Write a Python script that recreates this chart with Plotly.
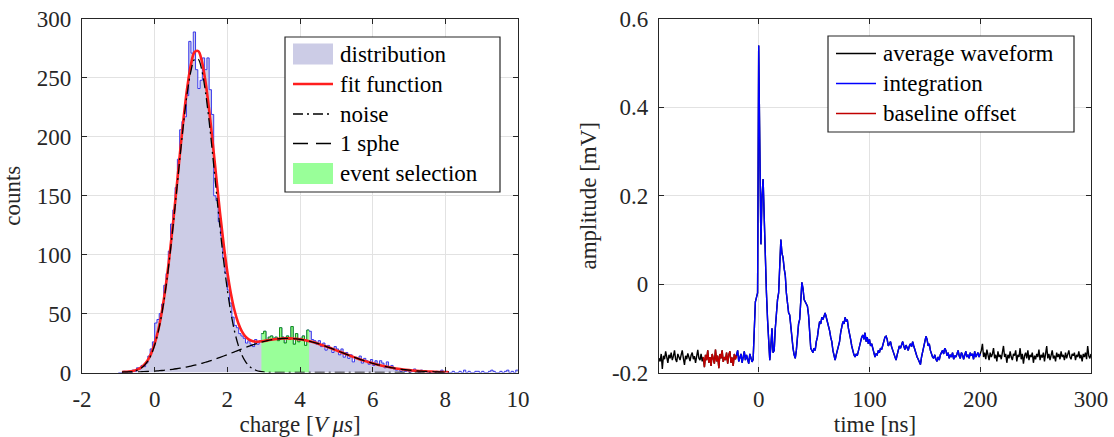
import numpy as np
import plotly.graph_objects as go

# ---------------- data: left panel (charge spectrum) ----------------
BIN_START = -1.0
BIN_WIDTH = 0.0625
HIST_COUNTS = [
    0, 0, 1, 0, 1, 0, 2, 1, 4, 3,
    6, 5, 8, 14, 20, 26, 42, 45, 50, 58,
    74, 84, 103, 126, 138, 157, 181, 206, 213, 217,
    235, 281, 271, 289, 257, 241, 248, 267, 257, 267,
    240, 219, 150, 146, 128, 116, 97, 84, 70, 59,
    47, 40, 38, 33, 31, 29, 25, 27, 24, 22,
    28, 24, 27, 33, 35, 28, 30, 31, 29, 30,
    27, 38, 30, 25, 31, 28, 39, 24, 33, 26,
    29, 31, 23, 36, 35, 28, 27, 24, 27, 22,
    25, 19, 23, 21, 17, 22, 20, 15, 20, 13,
    17, 12, 15, 9, 13, 12, 14, 8, 12, 10,
    7, 11, 6, 10, 7, 10, 8, 4, 9, 4,
    6, 3, 2, 3, 1, 2, 1, 2, 0, 1,
    3, 1, 0, 2, 1, 1, 0, 0, 1, 0,
    1, 0, 2, 0, 1, 0, 0, 1, 0, 0,
    1, 0, 2, 0, 1, 0, 0, 1, 1, 0,
    1, 0, 0, 1, 2, 1, 0, 0, 1, 0,
    1, 2, 0, 1, 0, 2,
]
SELECTION_WINDOW = (2.9375, 4.25)

FIT_X_START, FIT_X_END = -0.9, 8.1
FIT_TOTAL = [
    0.32, 0.50, 0.79, 1.33, 2.22, 3.74, 6.18, 10.05, 15.82, 24.42,
    36.25, 52.01, 72.21, 96.75, 124.94, 155.78, 187.26, 217.10, 242.60, 261.56,
    271.98, 272.76, 263.90, 246.50, 222.56, 194.28, 164.34, 135.05, 108.40, 85.38,
    66.68, 52.39, 42.00, 34.80, 30.38, 27.81, 26.50, 26.12, 26.30, 26.70,
    27.23, 27.75, 28.22, 28.59, 28.85, 28.98, 28.98, 28.84, 28.57, 28.17,
    27.64, 26.99, 26.23, 25.37, 24.42, 23.40, 22.31, 21.18, 20.00, 18.80,
    17.59, 16.38, 15.18, 14.00, 12.85, 11.74, 10.68, 9.66, 8.70, 7.80,
    6.96, 6.18, 5.46, 4.80, 4.20, 3.66, 3.18, 2.74, 2.35, 2.01,
    1.71, 1.45, 1.22, 1.02, 0.85, 0.71, 0.59, 0.48, 0.40, 0.32,
    0.26,
]
FIT_NOISE = [
    0.11, 0.24, 0.47, 0.93, 1.74, 3.15, 5.47, 9.2, 14.8, 23.2,
    34.8, 50.3, 70.2, 94.4, 122.2, 152.6, 183.6, 212.9, 237.8, 256.1,
    265.8, 265.8, 256.1, 237.8, 212.9, 183.6, 152.6, 122.2, 94.4, 70.2,
    50.3, 34.8, 23.2, 14.8, 9.2, 5.5, 3.1, 1.7, 0.93, 0.47,
    0.24, 0.11, 0.05, 0.02, 0.01, 0, 0, 0, 0, 0,
    0, 0, 0, 0, 0, 0, 0, 0, 0, 0,
    0, 0, 0, 0, 0, 0, 0, 0, 0, 0,
    0, 0, 0, 0, 0, 0, 0, 0, 0, 0,
    0, 0, 0, 0, 0, 0, 0, 0, 0, 0,
    0,
]
FIT_SPHE = [
    0.21, 0.26, 0.32, 0.40, 0.48, 0.59, 0.71, 0.85, 1.02, 1.22,
    1.45, 1.71, 2.01, 2.35, 2.74, 3.18, 3.66, 4.20, 4.80, 5.46,
    6.18, 6.96, 7.80, 8.70, 9.66, 10.68, 11.74, 12.85, 14.00, 15.18,
    16.38, 17.59, 18.80, 20.00, 21.18, 22.31, 23.40, 24.42, 25.37, 26.23,
    26.99, 27.64, 28.17, 28.57, 28.84, 28.98, 28.98, 28.84, 28.57, 28.17,
    27.64, 26.99, 26.23, 25.37, 24.42, 23.40, 22.31, 21.18, 20.00, 18.80,
    17.59, 16.38, 15.18, 14.00, 12.85, 11.74, 10.68, 9.66, 8.70, 7.80,
    6.96, 6.18, 5.46, 4.80, 4.20, 3.66, 3.18, 2.74, 2.35, 2.01,
    1.71, 1.45, 1.22, 1.02, 0.85, 0.71, 0.59, 0.48, 0.40, 0.32,
    0.26,
]

# ---------------- data: right panel (average waveform) ----------------
T_START, T_END = -90, 300   # ns, 1 ns sampling
WAVEFORM = [
    -0.168, -0.175, -0.158, -0.192, -0.162, -0.170, -0.152, -0.165, -0.178, -0.160,
    -0.168, -0.155, -0.172, -0.163, -0.150, -0.170, -0.176, -0.158, -0.166, -0.172,
    -0.160, -0.150, -0.168, -0.183, -0.162, -0.170, -0.157, -0.165, -0.174, -0.161,
    -0.155, -0.170, -0.163, -0.178, -0.160, -0.149, -0.168, -0.172, -0.158, -0.175,
    -0.165, -0.188, -0.160, -0.172, -0.150, -0.178, -0.165, -0.185, -0.158, -0.170,
    -0.180, -0.148, -0.175, -0.162, -0.190, -0.158, -0.168, -0.150, -0.176, -0.165,
    -0.172, -0.155, -0.180, -0.160, -0.152, -0.178, -0.166, -0.185, -0.158, -0.170,
    -0.162, -0.150, -0.175, -0.165, -0.158, -0.178, -0.168, -0.152, -0.172, -0.160,
    -0.170, -0.180, -0.158, -0.166, -0.176, -0.170, -0.120, -0.040, -0.030, -0.020,
    0.540, 0.300, 0.090, 0.200, 0.238, 0.150, 0.050, -0.020, -0.080, -0.120,
    -0.172, -0.140, -0.100, -0.155, -0.150, -0.100, -0.060, -0.035, -0.020, 0.050,
    0.101, 0.070, 0.060, 0.035, 0.020, -0.020, -0.050, -0.065, -0.070, -0.100,
    -0.130, -0.145, -0.160, -0.168, -0.150, -0.110, -0.090, -0.080, -0.030, 0.004,
    -0.010, -0.035, -0.040, -0.045, -0.050, -0.070, -0.110, -0.145, -0.150, -0.155,
    -0.145, -0.150, -0.130, -0.120, -0.100, -0.085, -0.090, -0.075, -0.080, -0.070,
    -0.065, -0.075, -0.085, -0.090, -0.105, -0.120, -0.130, -0.150, -0.160, -0.172,
    -0.160, -0.150, -0.140, -0.130, -0.110, -0.095, -0.085, -0.090, -0.075, -0.085,
    -0.080, -0.100, -0.110, -0.125, -0.140, -0.155, -0.160, -0.165, -0.158, -0.162,
    -0.150, -0.140, -0.130, -0.120, -0.115, -0.125, -0.110, -0.130, -0.120, -0.135,
    -0.125, -0.140, -0.135, -0.150, -0.155, -0.165, -0.158, -0.160, -0.150, -0.155,
    -0.145, -0.148, -0.140, -0.130, -0.120, -0.118, -0.125, -0.140, -0.135, -0.130,
    -0.142, -0.150, -0.158, -0.165, -0.172, -0.160, -0.150, -0.140, -0.145, -0.135,
    -0.130, -0.140, -0.148, -0.138, -0.145, -0.150, -0.140, -0.135, -0.142, -0.130,
    -0.140, -0.150, -0.158, -0.165, -0.170, -0.178, -0.182, -0.165, -0.150, -0.140,
    -0.130, -0.118, -0.125, -0.140, -0.135, -0.150, -0.158, -0.165, -0.168, -0.160,
    -0.170, -0.175, -0.165, -0.172, -0.160, -0.155, -0.150, -0.158, -0.145, -0.150,
    -0.162, -0.155, -0.168, -0.160, -0.165, -0.155, -0.170, -0.162, -0.165, -0.158,
    -0.150, -0.162, -0.168, -0.155, -0.160, -0.170, -0.158, -0.152, -0.165, -0.160,
    -0.168, -0.155, -0.162, -0.158, -0.170, -0.152, -0.165, -0.160, -0.155, -0.165,
    -0.158, -0.150, -0.135, -0.165, -0.155, -0.170, -0.148, -0.162, -0.172, -0.155,
    -0.165, -0.158, -0.145, -0.168, -0.160, -0.175, -0.152, -0.165, -0.160, -0.170,
    -0.155, -0.140, -0.165, -0.158, -0.178, -0.160, -0.168, -0.152, -0.165, -0.172,
    -0.158, -0.162, -0.150, -0.175, -0.160, -0.165, -0.145, -0.170, -0.158, -0.180,
    -0.162, -0.155, -0.168, -0.150, -0.172, -0.160, -0.165, -0.155, -0.178, -0.162,
    -0.170, -0.158, -0.165, -0.148, -0.172, -0.160, -0.166, -0.155, -0.175, -0.162,
    -0.140, -0.168, -0.158, -0.172, -0.160, -0.150, -0.168, -0.162, -0.175, -0.155,
    -0.165, -0.158, -0.170, -0.152, -0.165, -0.160, -0.172, -0.155, -0.168, -0.160,
    -0.150, -0.165, -0.170, -0.158, -0.162, -0.155, -0.172, -0.160, -0.165, -0.152,
    -0.168, -0.160, -0.175, -0.158, -0.165, -0.155, -0.170, -0.140, -0.162, -0.168,
    -0.158,
]
BASELINE_WINDOW = (-50, -20)
INTEGRATION_WINDOW = (-20, 200)

LEFT_LEGEND = ["distribution", "fit function", "noise", "1 sphe", "event selection"]
RIGHT_LEGEND = ["average waveform", "integration", "baseline offset"]

# ---------------- styling / layout constants ----------------
W, H = 1114, 437
FONT = "Liberation Serif"
FS = 23
INK = "#262626"
GRID = "#e2e2e2"
C_DIST_FILL = "rgb(204,204,230)"
C_DIST_EDGE = "rgba(30,30,235,0.85)"
C_SEL_FILL = "rgb(153,255,153)"
C_SEL_EDGE = "rgb(20,150,20)"
C_FIT = "rgb(255,30,30)"
C_BLUE = "rgb(0,0,255)"
C_RED = "rgb(192,0,0)"

def fx(p):
    return p / W

def fy(p):
    return 1 - p / H

# ---------------- derived arrays ----------------
counts = np.array(HIST_COUNTS, dtype=float)
edges = BIN_START + BIN_WIDTH * np.arange(len(counts) + 1)
stairs_y = np.append(counts, counts[-1])

sel = (edges[:-1] >= SELECTION_WINDOW[0] - 1e-9) & (edges[1:] <= SELECTION_WINDOW[1] + 1e-9)
sel_idx = np.where(sel)[0]
sel_edges = edges[sel_idx[0]: sel_idx[-1] + 2]
sel_y = np.append(counts[sel_idx], counts[sel_idx[-1]])

fit_x = np.linspace(FIT_X_START, FIT_X_END, len(FIT_TOTAL))

t = np.arange(T_START, T_END + 1)
wf = np.array(WAVEFORM)
m_base = (t >= BASELINE_WINDOW[0]) & (t <= BASELINE_WINDOW[1])
m_int = (t >= INTEGRATION_WINDOW[0]) & (t <= INTEGRATION_WINDOW[1])

fig = go.Figure()

# left panel traces
fig.add_trace(go.Scatter(x=edges, y=stairs_y, mode="lines", line=dict(shape="hv", color=C_DIST_EDGE, width=1),
                         fill="tozeroy", fillcolor=C_DIST_FILL, name=LEFT_LEGEND[0], showlegend=False,
                         xaxis="x", yaxis="y"))
fig.add_trace(go.Scatter(x=sel_edges, y=sel_y, mode="lines", line=dict(shape="hv", color=C_SEL_EDGE, width=1),
                         fill="tozeroy", fillcolor=C_SEL_FILL, name=LEFT_LEGEND[4], showlegend=False,
                         xaxis="x", yaxis="y"))
fig.add_trace(go.Scatter(x=fit_x, y=FIT_TOTAL, mode="lines", line=dict(shape="spline", color=C_FIT, width=2.6),
                         name=LEFT_LEGEND[1], showlegend=False, xaxis="x", yaxis="y"))
fig.add_trace(go.Scatter(x=fit_x, y=FIT_NOISE, mode="lines",
                         line=dict(shape="spline", color="black", width=1.3, dash="10px,4px,2px,4px"),
                         name=LEFT_LEGEND[2], showlegend=False, xaxis="x", yaxis="y"))
fig.add_trace(go.Scatter(x=fit_x, y=FIT_SPHE, mode="lines",
                         line=dict(shape="spline", color="black", width=1.3, dash="11px,5px"),
                         name=LEFT_LEGEND[3], showlegend=False, xaxis="x", yaxis="y"))

# right panel traces
fig.add_trace(go.Scatter(x=t, y=wf, mode="lines", line=dict(color="black", width=1.4),
                         name=RIGHT_LEGEND[0], showlegend=False, xaxis="x2", yaxis="y2"))
fig.add_trace(go.Scatter(x=t[m_int], y=wf[m_int], mode="lines", line=dict(color=C_BLUE, width=1.4),
                         name=RIGHT_LEGEND[1], showlegend=False, xaxis="x2", yaxis="y2"))
fig.add_trace(go.Scatter(x=t[m_base], y=wf[m_base], mode="lines", line=dict(color=C_RED, width=1.4),
                         name=RIGHT_LEGEND[2], showlegend=False, xaxis="x2", yaxis="y2"))

axis_common = dict(showline=True, linecolor=INK, linewidth=1.2, mirror="ticks", ticks="inside", ticklen=5,
                   tickcolor=INK, tickwidth=1, showgrid=True, gridcolor=GRID, gridwidth=1, zeroline=False,
                   tickfont=dict(family=FONT, size=FS, color=INK), automargin=False)

y_dom = [1 - 372.5 / H, 1 - 19 / H]

fig.update_layout(
    width=W, height=H, margin=dict(l=0, r=0, t=0, b=0),
    paper_bgcolor="white", plot_bgcolor="white",
    font=dict(family=FONT, size=FS, color=INK),
    xaxis=dict(axis_common, domain=[fx(82), fx(518)], range=[-2, 10],
               tickvals=[-2, 0, 2, 4, 6, 8, 10], ticktext=["-2", "0", "2", "4", "6", "8", "10"],
               ticklabelstandoff=6,
               title=dict(text="charge [<i>V</i>\u2009<i>μs</i>]", font=dict(family=FONT, size=FS, color=INK), standoff=8)),
    yaxis=dict(axis_common, domain=y_dom, range=[0, 300], tickvals=[0, 50, 100, 150, 200, 250, 300],
               ticklabelstandoff=5,
               title=dict(text="counts", font=dict(family=FONT, size=FS, color=INK), standoff=10)),
    xaxis2=dict(axis_common, domain=[fx(659), fx(1091)], range=[-90, 300],
                tickvals=[0, 100, 200, 300], ticktext=["0", "100", "200", "300"],
                ticklabelstandoff=6, anchor="y2",
                title=dict(text="time [ns]", font=dict(family=FONT, size=FS, color=INK), standoff=8)),
    yaxis2=dict(axis_common, domain=y_dom, range=[-0.2, 0.6], anchor="x2",
                tickvals=[-0.2, 0, 0.2, 0.4, 0.6], ticktext=["-0.2", "0", "0.2", "0.4", "0.6"],
                ticklabelstandoff=5,
                title=dict(text="amplitude [mV]", font=dict(family=FONT, size=FS, color=INK), standoff=8)),
)

# ---------------- hand-drawn legends (MATLAB style) ----------------
shapes = []
annotations = []

def legend_box(x0, y0, x1, y1):
    shapes.append(dict(type="rect", xref="paper", yref="paper", x0=fx(x0), x1=fx(x1), y0=fy(y1), y1=fy(y0),
                       line=dict(color=INK, width=1.2), fillcolor="white", layer="above"))

def legend_patch(x0, x1, yc, h, color):
    shapes.append(dict(type="rect", xref="paper", yref="paper", x0=fx(x0), x1=fx(x1), y0=fy(yc + h / 2),
                       y1=fy(yc - h / 2), line=dict(width=0), fillcolor=color, layer="above"))

def legend_line(x0, x1, yc, color, width, dash="solid"):
    shapes.append(dict(type="line", xref="paper", yref="paper", x0=fx(x0), x1=fx(x1), y0=fy(yc), y1=fy(yc),
                       line=dict(color=color, width=width, dash=dash), layer="above"))

def legend_text(x, yc, text):
    annotations.append(dict(xref="paper", yref="paper", x=fx(x), y=fy(yc), text=text, showarrow=False,
                            xanchor="left", yanchor="middle", font=dict(family=FONT, size=FS, color="black")))

# left legend
legend_box(285, 37, 500, 192)
rows_l = [54, 84, 114, 143.5, 173.5]
legend_patch(293, 333, rows_l[0], 21, C_DIST_FILL)
legend_line(293, 333, rows_l[1], C_FIT, 2.6)
legend_line(293, 333, rows_l[2], "black", 1.3, "10px,4px,2px,4px")
legend_line(293, 333, rows_l[3], "black", 1.3, "15px,8px")
legend_patch(293, 333, rows_l[4], 21, C_SEL_FILL)
for yc, txt in zip(rows_l, LEFT_LEGEND):
    legend_text(338, yc, txt)

# right legend
legend_box(828, 36, 1074, 132)
rows_r = [53.5, 83.5, 113.5]
legend_line(836, 876, rows_r[0], "black", 1.4)
legend_line(836, 876, rows_r[1], C_BLUE, 1.4)
legend_line(836, 876, rows_r[2], C_RED, 1.4)
for yc, txt in zip(rows_r, RIGHT_LEGEND):
    legend_text(881, yc, txt)

fig.update_layout(shapes=shapes, annotations=annotations)

fig.write_html("out.html")
